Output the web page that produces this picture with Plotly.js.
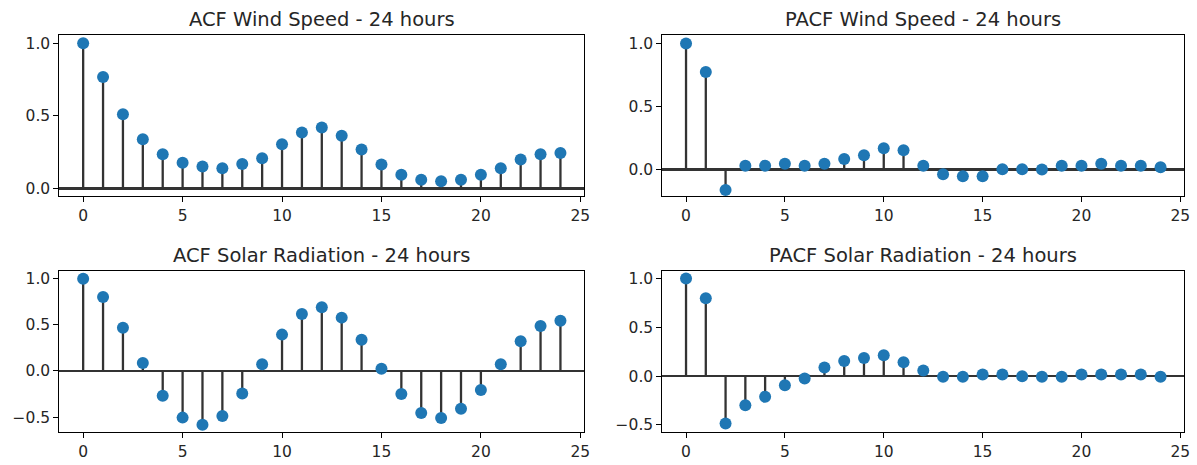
<!DOCTYPE html>
<html>
<head>
<meta charset="utf-8">
<script src="https://cdn.plot.ly/plotly-3.0.1.min.js"></script>
<style>html,body{margin:0;padding:0;background:#fff;}#chart{width:1197px;height:465px;}</style>
</head>
<body>
<div id="chart"></div>
<script>
// ---- data ----
const lags = [0,1,2,3,4,5,6,7,8,9,10,11,12,13,14,15,16,17,18,19,20,21,22,23,24];

const acfWind = [1.0,0.767,0.511,0.338,0.235,0.176,0.151,0.139,0.167,0.208,0.304,0.384,0.420,0.363,0.267,0.164,0.094,0.059,0.048,0.059,0.094,0.139,0.199,0.235,0.244];
const pacfWind = [1.0,0.772,-0.164,0.029,0.029,0.045,0.029,0.045,0.082,0.111,0.167,0.151,0.029,-0.040,-0.056,-0.056,0.0,0.0,-0.002,0.029,0.029,0.045,0.029,0.029,0.016];
const acfSolar = [1.0,0.801,0.469,0.087,-0.267,-0.505,-0.581,-0.487,-0.245,0.072,0.394,0.617,0.690,0.578,0.339,0.025,-0.249,-0.455,-0.509,-0.408,-0.206,0.072,0.321,0.487,0.545];
const pacfSolar = [1.0,0.799,-0.486,-0.299,-0.211,-0.092,-0.024,0.088,0.156,0.187,0.214,0.143,0.058,-0.007,-0.007,0.017,0.017,0.0,-0.007,-0.007,0.017,0.017,0.017,0.017,-0.007];

const titles = ["ACF Wind Speed - 24 hours","PACF Wind Speed - 24 hours","ACF Solar Radiation - 24 hours","PACF Solar Radiation - 24 hours"];

const xTicks = [0,5,10,15,20,25];
const xTickText = ["0","5","10","15","20","25"];
const yTicksTop = [0,0.5,1.0];
const yTickTextTop = ["0.0","0.5","1.0"];
const yTicksBottom = [-0.5,0,0.5,1.0];
const yTickTextBottom = ["\u22120.5","0.0","0.5","1.0"];

// ---- build ----
const series = [acfWind, pacfWind, acfSolar, pacfSolar];
const yRanges = [[-0.053,1.059],[-0.212,1.069],[-0.664,1.083],[-0.575,1.077]];
const xDomains = [[59.3/1197,584.3/1197],[662.3/1197,1184.3/1197],[59.3/1197,584.3/1197],[662.3/1197,1184.3/1197]];
const yDomains = [[1-196/465,1-34.7/465],[1-196/465,1-34.7/465],[1-432.3/465,1-271/465],[1-432.3/465,1-271/465]];
const titleY = [19,19,255.3,255.3];

const FONT = "DejaVu Sans, Liberation Sans, sans-serif";
const traces = [];
const layout = {
  width:1197, height:465,
  margin:{l:0,r:0,t:0,b:0},
  paper_bgcolor:"#fff", plot_bgcolor:"#fff",
  showlegend:false,
  font:{family:FONT, color:"#262626", size:15.5},
  annotations:[]
};

series.forEach((vals,i)=>{
  const n = i===0 ? "" : String(i+1);
  const sx=[], sy=[];
  lags.forEach((l,k)=>{ sx.push(l,l,null); sy.push(0,vals[k],null); });
  traces.push({type:"scatter",mode:"lines",x:sx,y:sy,xaxis:"x"+n,yaxis:"y"+n,
    line:{color:"#333333",width:2.3},hoverinfo:"skip"});
  traces.push({type:"scatter",mode:"markers",x:lags,y:vals,xaxis:"x"+n,yaxis:"y"+n,
    marker:{color:"#1f77b4",size:12}});
  const top = i<2;
  layout["xaxis"+n] = {domain:xDomains[i],anchor:"y"+n,range:[-1.2,25.2],
    tickmode:"array",tickvals:xTicks,ticktext:xTickText,
    showgrid:false,zeroline:false,showline:true,mirror:true,linecolor:"#000",linewidth:1,
    ticks:"outside",ticklen:5,tickwidth:1,tickcolor:"#000",
    tickfont:{family:FONT,size:15.5,color:"#262626"}};
  layout["yaxis"+n] = {domain:yDomains[i],anchor:"x"+n,range:yRanges[i],
    tickmode:"array",tickvals:top?yTicksTop:yTicksBottom,ticktext:top?yTickTextTop:yTickTextBottom,
    showgrid:false,zeroline:true,zerolinecolor:"#333333",zerolinewidth:2.5,
    showline:true,mirror:true,linecolor:"#000",linewidth:1,
    ticks:"outside",ticklen:5,tickwidth:1,tickcolor:"#000",
    tickfont:{family:FONT,size:15.5,color:"#262626"}};
  layout.annotations.push({text:titles[i],xref:"paper",yref:"paper",
    x:(xDomains[i][0]+xDomains[i][1])/2, y:1-titleY[i]/465,
    xanchor:"center",yanchor:"middle",showarrow:false,
    font:{family:FONT,size:19.5,color:"#262626"}});
});

Plotly.newPlot("chart",traces,layout,{displayModeBar:false,staticPlot:true});
</script>
</body>
</html>
